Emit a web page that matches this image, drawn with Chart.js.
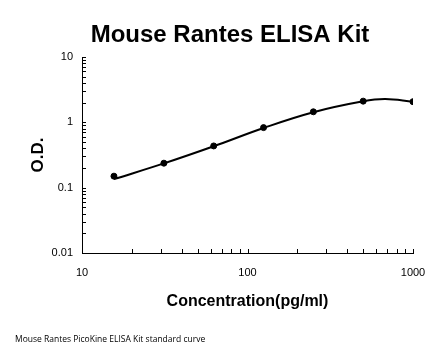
<!DOCTYPE html>
<html><head><meta charset="utf-8">
<script src="https://cdn.jsdelivr.net/npm/chart.js@4"></script>
<style>html,body{margin:0;padding:0;background:#fff}#wrap{width:446px;height:356px}</style>
</head><body><div id="wrap"><canvas id="c" width="446" height="356"></canvas></div>
<script>
const concentrations = [15.6, 31.25, 62.5, 125, 250, 500, 1000];
const odValues = [0.15, 0.237, 0.435, 0.83, 1.45, 2.11, 2.07];
const fitConcentrations = [15.6, 31.25, 62.5, 125, 250, 500, 680, 1000];
const fitValues = [0.135, 0.235, 0.43, 0.82, 1.43, 2.1, 2.27, 2.07];
const xTickLabels = ['10', '100', '1000'];
const yTickLabels = ['0.01', '0.1', '1', '10'];
const titleText = 'Mouse Rantes ELISA Kit';
const xTitle = 'Concentration(pg/ml)';
const yTitle = 'O.D.';
const footerText = 'Mouse Rantes PicoKine ELISA Kit standard curve';

function logTicks(min, max) {
  const t = [];
  for (let e = Math.round(Math.log10(min)); e < Math.round(Math.log10(max)); e++) {
    for (let m = 1; m < 10; m++) t.push({value: m * Math.pow(10, e)});
  }
  t.push({value: max});
  return t;
}
function isMajor(v) { const l = Math.log10(v); return Math.abs(l - Math.round(l)) < 1e-9; }

const extras = {
  id: 'extras',
  afterDraw(chart) {
    const ctx = chart.ctx, xs = chart.scales.x, ys = chart.scales.y;
    ctx.save();
    ctx.strokeStyle = '#000'; ctx.lineWidth = 1;
    ctx.beginPath();
    ys.ticks.forEach(t => { const y = Math.round(ys.getPixelForValue(t.value)) + 0.5; ctx.moveTo(xs.left, y); ctx.lineTo(xs.left + 4, y); });
    xs.ticks.forEach(t => { const x = Math.round(xs.getPixelForValue(t.value)) + 0.5; ctx.moveTo(x, ys.bottom); ctx.lineTo(x, ys.bottom - 4); });
    ctx.stroke();
    ctx.fillStyle = '#000';
    ctx.textBaseline = 'middle';
    ctx.textAlign = 'center';
    ctx.font = 'bold 24px "Liberation Sans"';
    ctx.fillText(titleText, 230, 35);
    ctx.textAlign = 'left';
    ctx.font = '8.5px "Open Sans"';
    ctx.fillText(footerText, 15, 340);
    ctx.restore();
  }
};

new Chart(document.getElementById('c'), {
  type: 'scatter',
  data: {
    datasets: [
      { label: 'fit', data: fitConcentrations.map((x, i) => ({x, y: fitValues[i]})), showLine: true, tension: 0.4,
        borderColor: '#000', borderWidth: 2, pointRadius: 0, order: 2 },
      { label: 'standards', data: concentrations.map((x, i) => ({x, y: odValues[i]})), showLine: false,
        pointRadius: 3, backgroundColor: '#000', borderColor: '#000', order: 1 }
    ]
  },
  options: {
    responsive: false, animation: false, devicePixelRatio: 1,
    layout: { padding: { left: 0, right: 33, top: 57, bottom: 0 } },
    plugins: { legend: { display: false }, tooltip: { enabled: false }, title: { display: false } },
    scales: {
      x: {
        type: 'logarithmic', min: 10, max: 1000,
        afterBuildTicks: s => { s.ticks = logTicks(10, 1000); },
        afterFit: s => { s.height = 103; },
        ticks: { autoSkip: false, maxRotation: 0, color: '#000', font: { family: 'Liberation Sans', size: 11 }, padding: 13,
          callback: v => isMajor(v) ? xTickLabels[Math.round(Math.log10(v)) - 1] : '' },
        grid: { display: true, drawOnChartArea: false, drawTicks: false, color: '#000' },
        border: { display: true, color: '#000', width: 1 },
        title: { display: true, text: xTitle, color: '#000', font: { family: 'Liberation Sans', size: 16, weight: 'bold' }, padding: { top: 0, bottom: 45 } }
      },
      y: {
        type: 'logarithmic', min: 0.01, max: 10,
        afterBuildTicks: s => { s.ticks = logTicks(0.01, 10); },
        afterFit: s => { s.width = 82; },
        ticks: { autoSkip: false, color: '#000', font: { family: 'Liberation Sans', size: 11 }, padding: 9,
          callback: v => isMajor(v) ? yTickLabels[Math.round(Math.log10(v)) + 2] : '' },
        grid: { display: true, drawOnChartArea: false, drawTicks: false, color: '#000' },
        border: { display: true, color: '#000', width: 1 },
        title: { display: true, text: yTitle, color: '#000', font: { family: 'Liberation Sans', size: 17, weight: 'bold' }, padding: { top: 28, bottom: 0 } }
      }
    }
  },
  plugins: [extras]
});
</script>
</body></html>
